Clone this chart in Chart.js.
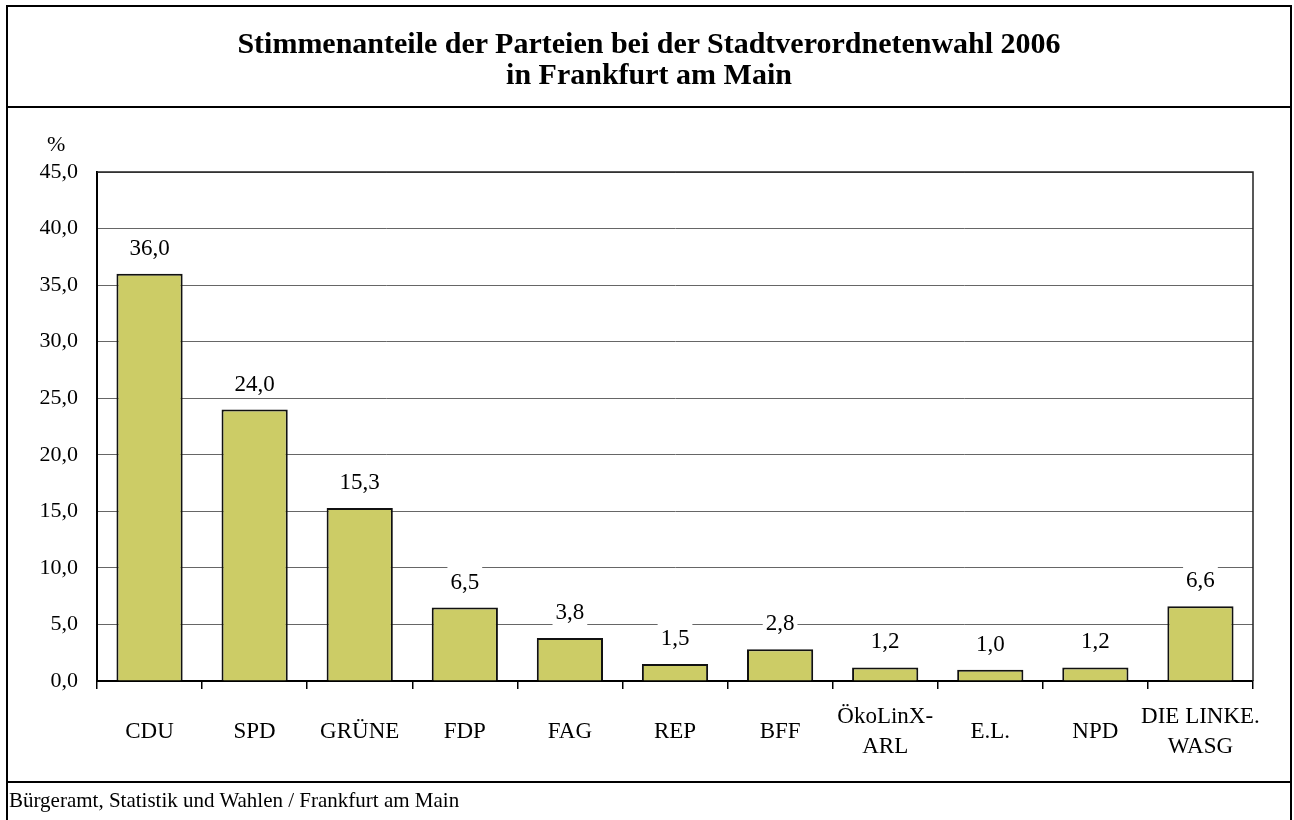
<!DOCTYPE html>
<html>
<head>
<meta charset="utf-8">
<script src="https://cdn.jsdelivr.net/npm/chart.js@4.4.0/dist/chart.umd.min.js"></script>
<style>
  html, body { margin: 0; padding: 0; background: #fff; }
  body { width: 1294px; height: 820px; position: relative; overflow: hidden; font-family: "Liberation Serif", "Times New Roman", serif; }
  #frame { position: absolute; left: 6px; top: 5px; width: 1286px; height: 830px; border: 2px solid #000; box-sizing: border-box; }
  #titleSep { position: absolute; left: 6px; top: 106px; width: 1286px; height: 2px; background: #000; }
  #footSep { position: absolute; left: 6px; top: 781px; width: 1286px; height: 2px; background: #000; }
  #title { position: absolute; left: 6px; width: 1286px; top: 27px; text-align: center; font-weight: bold; font-size: 30px; line-height: 31px; color: #000; }
  #footer { position: absolute; left: 9px; top: 788px; font-size: 21px; line-height: 25px; color: #000; }
  #unit { position: absolute; left: 47px; top: 131px; font-size: 22px; line-height: 26px; color: #000; }
  #wrap { position: absolute; left: 0; top: 0; width: 1294px; height: 820px; }
</style>
</head>
<body>
<div id="wrap"><canvas id="c" width="1294" height="820"></canvas></div>
<div id="frame"></div>
<div id="titleSep"></div>
<div id="footSep"></div>
<div id="title">Stimmenanteile der Parteien bei der Stadtverordnetenwahl 2006<br>in Frankfurt am Main</div>
<div id="unit">%</div>
<div id="footer">Bürgeramt, Statistik und Wahlen / Frankfurt am Main</div>
<script>
const parties = ["CDU", "SPD", "GRÜNE", "FDP", "FAG", "REP", "BFF", ["ÖkoLinX-", "ARL"], "E.L.", "NPD", ["DIE LINKE.", "WASG"]];
const shares = [36.0, 24.0, 15.3, 6.5, 3.8, 1.5, 2.8, 1.2, 1.0, 1.2, 6.6];
const yTicks = [0, 5, 10, 15, 20, 25, 30, 35, 40, 45];

const FONT = "'Liberation Serif', 'Times New Roman', serif";
const fmt = v => v.toFixed(1).replace('.', ',');

const plotFrame = {
  id: 'plotFrame',
  afterDatasetsDraw(chart) {
    const { ctx, chartArea: a } = chart;
    ctx.save();
    ctx.strokeStyle = '#222';
    ctx.lineWidth = 1.5;
    ctx.beginPath();
    ctx.moveTo(a.left, a.top);
    ctx.lineTo(a.right, a.top);
    ctx.lineTo(a.right, a.bottom);
    ctx.stroke();
    ctx.restore();
  }
};

const valueLabels = {
  id: 'valueLabels',
  afterDatasetsDraw(chart) {
    const { ctx } = chart;
    const meta = chart.getDatasetMeta(0);
    ctx.save();
    ctx.font = '23px ' + FONT;
    ctx.textAlign = 'center';
    ctx.textBaseline = 'middle';
    meta.data.forEach((bar, i) => {
      const txt = fmt(shares[i]);
      const w = ctx.measureText(txt).width;
      const cy = bar.y - 26;
      ctx.fillStyle = '#fff';
      ctx.fillRect(bar.x - w / 2 - 3, cy - 15, w + 6, 29);
      ctx.fillStyle = '#000';
      ctx.fillText(txt, bar.x, cy + 1);
    });
    ctx.restore();
  }
};

new Chart(document.getElementById('c'), {
  type: 'bar',
  data: {
    labels: parties,
    datasets: [{
      data: shares,
      backgroundColor: '#CCCC66',
      borderColor: '#111',
      borderWidth: 2,
      borderSkipped: 'bottom',
      categoryPercentage: 1.0,
      barPercentage: 0.63
    }]
  },
  options: {
    responsive: false,
    animation: false,
    devicePixelRatio: 1,
    layout: { padding: { left: 0, right: 41, top: 172, bottom: 38 } },
    plugins: { legend: { display: false }, tooltip: { enabled: false }, title: { display: false } },
    scales: {
      x: {
        grid: { display: true, drawOnChartArea: false, drawTicks: true, tickLength: 8, color: '#000', lineWidth: 1.5, offset: true },
        border: { display: true, color: '#000', width: 2 },
        ticks: { color: '#000', font: { family: FONT, size: 23, lineHeight: 1.3 }, maxRotation: 0, autoSkip: false, padding: 28, crossAlign: 'center' },
        afterFit(scale) { scale.height = 101; }
      },
      y: {
        min: 0, max: 45,
        afterBuildTicks(scale) { scale.ticks = yTicks.map(v => ({ value: v })); },
        grid: { display: true, drawTicks: false, color: '#666', lineWidth: 1 },
        border: { display: true, color: '#000', width: 2 },
        ticks: { color: '#000', font: { family: FONT, size: 22 }, padding: 19, callback: v => fmt(v) },
        afterFit(scale) { scale.width = 97; }
      }
    }
  },
  plugins: [plotFrame, valueLabels]
});
</script>
</body>
</html>
